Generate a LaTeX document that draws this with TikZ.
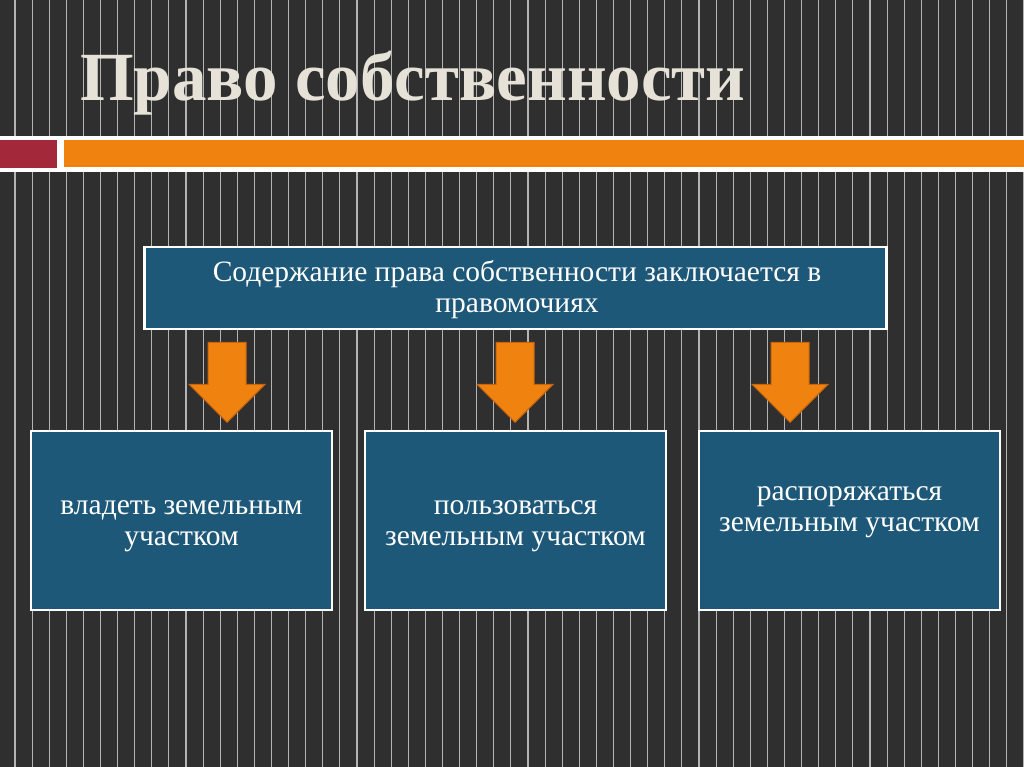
\documentclass[tikz,border=0pt]{standalone}
\usepackage{fontspec}
\setmainfont{Liberation Serif}
\usetikzlibrary{shapes.arrows}

\definecolor{slide}{HTML}{2F2F2F}
\definecolor{stripegray}{HTML}{B4B4B4}
\definecolor{boxblue}{HTML}{1E5879}
\definecolor{titlecol}{HTML}{E6E2D8}
\definecolor{bandred}{HTML}{A3283A}
\definecolor{bandorange}{HTML}{F0820F}
\definecolor{arrowedge}{HTML}{C8650C}

\begin{document}
\begin{tikzpicture}[x=1pt,y=-1pt,
    stripe/.style={draw=stripegray,line width=1.1pt},
    blue box/.style={draw=white,line width=2.5pt,fill=boxblue,inner sep=0pt},
    top box/.style={blue box,minimum width=742pt,minimum height=82pt},
    low box/.style={blue box,minimum width=301pt,minimum height=179pt},
    box text/.style={text=white,align=center,anchor=base,inner sep=0pt,font=\fontsize{29.5}{31}\selectfont},
    down arrow/.style={single arrow,shape border rotate=270,fill=bandorange,draw=arrowedge,line width=1pt,
        minimum width=75pt,minimum height=80pt,inner sep=18.5pt,single arrow head extend=19pt,anchor=tip}]
    \useasboundingbox (0,0) rectangle (1024,767);
    \fill[slide] (0,0) rectangle (1024,767);
    \foreach \i in {0,...,59}
        \draw[stripe] (15+\i*17.1,0) -- ++(0,767);

    % title and band
    \node[anchor=base west,inner sep=0pt,text=titlecol,font=\fontsize{69}{75}\selectfont\bfseries] (title) at (80,101) {Право собственности};
    \fill[white] (0,136) rectangle (1024,172);
    \fill[bandred] (0,140) rectangle (57,168);
    \fill[bandorange] (64,140) rectangle (1024,167);

    % content
    \node[top box] (top) at (515.5,288) {};
    \node[box text] (t0) at (517,312) {Содержание права собственности заключается в\\правомочиях};

    \node[down arrow] (a1) at (227,423) {};
    \node[down arrow] (a2) at (515,423) {};
    \node[down arrow] (a3) at (790,423) {};

    \node[low box] (b1) at (181.5,520.5) {};
    \node[low box] (b2) at (515.5,520.5) {};
    \node[low box] (b3) at (849.5,520.5) {};
    \node[box text] (t1) at (181.5,545) {владеть земельным\\участком};
    \node[box text] (t2) at (515.5,545) {пользоваться\\земельным участком};
    \node[box text] (t3) at (849.5,531) {распоряжаться\\земельным участком};
\end{tikzpicture}
\end{document}
